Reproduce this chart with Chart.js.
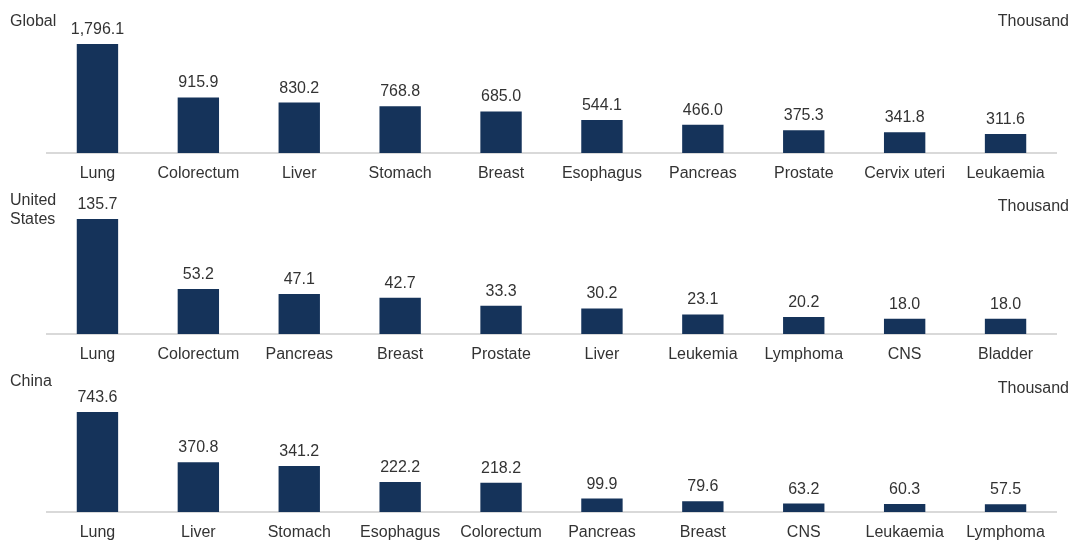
<!DOCTYPE html>
<html>
<head>
<meta charset="utf-8">
<script src="https://cdn.jsdelivr.net/npm/chart.js@4"></script>
<style>
  html, body { margin: 0; padding: 0; background: #fff; }
  body { width: 1074px; height: 543px; position: relative; overflow: hidden;
         font-family: "Liberation Sans", Arial, sans-serif; color: #333; }
  .panel { position: absolute; left: 0; width: 1074px; }
  .panel canvas { position: absolute; left: 0; top: 0; }
  .region { position: absolute; left: 10px; font-size: 16px; line-height: 19px; }
  .unit { position: absolute; right: 5px; font-size: 16px; line-height: 19px; }
</style>
</head>
<body>

<script>
// ---- data ----
const globalCats = ['Lung', 'Colorectum', 'Liver', 'Stomach', 'Breast', 'Esophagus', 'Pancreas', 'Prostate', 'Cervix uteri', 'Leukaemia'];
const globalVals = [1796.1, 915.9, 830.2, 768.8, 685.0, 544.1, 466.0, 375.3, 341.8, 311.6];

const usCats = ['Lung', 'Colorectum', 'Pancreas', 'Breast', 'Prostate', 'Liver', 'Leukemia', 'Lymphoma', 'CNS', 'Bladder'];
const usVals = [135.7, 53.2, 47.1, 42.7, 33.3, 30.2, 23.1, 20.2, 18.0, 18.0];

const chinaCats = ['Lung', 'Liver', 'Stomach', 'Esophagus', 'Colorectum', 'Pancreas', 'Breast', 'CNS', 'Leukaemia', 'Lymphoma'];
const chinaVals = [743.6, 370.8, 341.2, 222.2, 218.2, 99.9, 79.6, 63.2, 60.3, 57.5];

const unitLabel = 'Thousand';

const BAR_COLOR = '#15335a';
const TEXT_COLOR = '#333333';
const FONT = '"Liberation Sans", Arial, sans-serif';

function fmt(v) {
    const parts = v.toFixed(1).split('.');
    parts[0] = parts[0].replace(/\B(?=(\d{3})+(?!\d))/g, ',');
    return parts.join('.');
}

// draws value text above each bar
const valueLabels = {
    id: 'valueLabels',
    afterDatasetsDraw(chart) {
        const ctx = chart.ctx;
        const meta = chart.getDatasetMeta(0);
        const vals = chart.data.datasets[0].data;
        ctx.save();
        ctx.font = '16px ' + FONT;
        ctx.fillStyle = TEXT_COLOR;
        ctx.textAlign = 'center';
        ctx.textBaseline = 'alphabetic';
        meta.data.forEach((bar, i) => {
            ctx.fillText(fmt(vals[i]), bar.x, bar.y - 10);
        });
        ctx.restore();
    }
};

function makePanel(cfg) {
    const div = document.createElement('div');
    div.className = 'panel';
    div.style.top = cfg.top + 'px';
    div.style.height = cfg.height + 'px';

    const canvas = document.createElement('canvas');
    canvas.width = 1074;
    canvas.height = cfg.height;
    div.appendChild(canvas);

    const title = document.createElement('div');
    title.className = 'region';
    title.style.top = cfg.titleTop + 'px';
    title.innerHTML = cfg.title;
    div.appendChild(title);

    const unit = document.createElement('div');
    unit.className = 'unit';
    unit.style.top = cfg.unitTop + 'px';
    unit.textContent = unitLabel;
    div.appendChild(unit);

    document.body.appendChild(div);

    new Chart(canvas.getContext('2d'), {
        type: 'bar',
        data: {
            labels: cfg.cats,
            datasets: [{
                data: cfg.vals,
                backgroundColor: BAR_COLOR,
                barPercentage: 0.41,
                categoryPercentage: 1.0
            }]
        },
        options: {
            responsive: false,
            animation: false,
            layout: { padding: { left: 47, right: 18, top: cfg.padTop, bottom: 0 } },
            plugins: { legend: { display: false }, tooltip: { enabled: false } },
            scales: {
                x: {
                    grid: { display: false, drawTicks: false },
                    border: { display: true, color: '#d9d9d9', width: 2 },
                    ticks: { color: TEXT_COLOR, font: { family: FONT, size: 16 }, padding: 11, maxRotation: 0, autoSkip: false },
                    afterFit: function(scale) { scale.height = 28; }
                },
                y: {
                    display: false,
                    min: 0,
                    max: Math.max(...cfg.vals)
                }
            }
        },
        plugins: [valueLabels]
    });
}

makePanel({ top: 0, height: 181, padTop: 44, title: 'Global', titleTop: 11, unitTop: 11, cats: globalCats, vals: globalVals });
makePanel({ top: 181, height: 181, padTop: 38, title: 'United<br>States', titleTop: 9, unitTop: 15, cats: usCats, vals: usVals });
makePanel({ top: 362, height: 178, padTop: 50, title: 'China', titleTop: 9, unitTop: 16, cats: chinaCats, vals: chinaVals });
</script>
</body>
</html>
